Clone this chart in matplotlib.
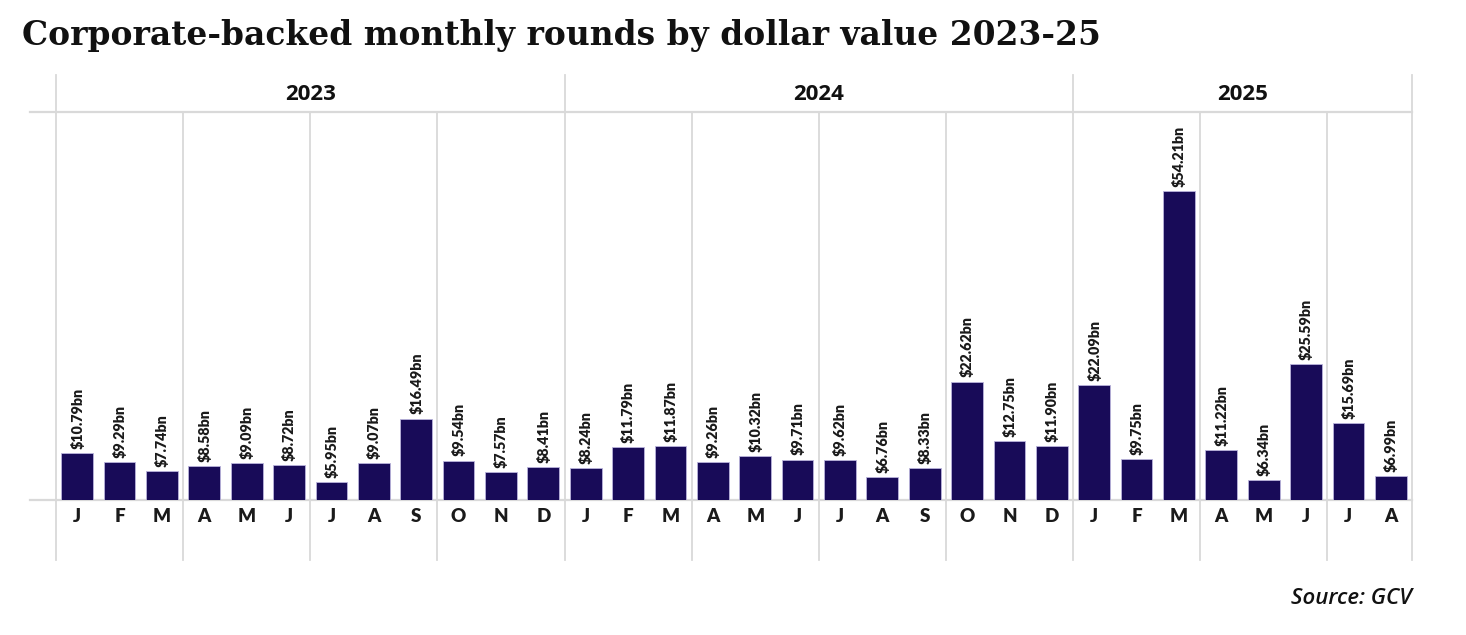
import matplotlib
matplotlib.use("Agg")
import matplotlib.pyplot as plt
import matplotlib.transforms as mtransforms

MONTHS = ["J", "F", "M", "A", "M", "J", "J", "A", "S", "O", "N", "D"]
YEARS = ["2023", "2024", "2025"]

VALUES_2023 = [10.79, 9.29, 7.74, 8.58, 9.09, 8.72, 5.95, 9.07, 16.49, 9.54, 7.57, 8.41]
VALUES_2024 = [8.24, 11.79, 11.87, 9.26, 10.32, 9.71, 9.62, 6.76, 8.33, 22.62, 12.75, 11.90]
VALUES_2025 = [22.09, 9.75, 54.21, 11.22, 6.34, 25.59, 15.69, 6.99]

BAR_COLOR = "#180b58"
GRID_COLOR = "#d9d9d9"
W, H = 1466, 635


def main() -> None:
    values = VALUES_2023 + VALUES_2024 + VALUES_2025
    labels = MONTHS + MONTHS + MONTHS[: len(VALUES_2025)]
    year_sizes = [len(VALUES_2023), len(VALUES_2024), len(VALUES_2025)]
    n = len(values)
    xs = list(range(n))

    fig = plt.figure(figsize=(W / 100, H / 100), dpi=100)
    left, right, top, bottom = 56, 1412, 112, 500
    ax = fig.add_axes([left / W, 1 - bottom / H, (right - left) / W, (bottom - top) / H])
    ax_h = bottom - top

    ax.bar(xs, values, width=0.75, color=BAR_COLOR, edgecolor="#b9b3dc",
           linewidth=0.6, zorder=3)
    ax.set_xlim(-0.5, n - 0.5)
    ax.set_ylim(3, 67.3)

    for x, v in zip(xs, values):
        ax.annotate(f"${v:.2f}bn", (x, v), xytext=(0, 3), textcoords="offset points",
                    rotation=90, ha="center", va="bottom", fontsize=10.3,
                    fontweight="heavy", family="Lato", color="#1a1a1a", zorder=4)

    ax.set_xticks(xs)
    ax.set_xticklabels(labels, fontsize=13.5, fontweight="heavy", family="Lato",
                       color="#1a1a1a")
    ax.tick_params(axis="x", length=0, pad=6)
    ax.set_yticks([])
    for s in ax.spines.values():
        s.set_visible(False)

    y_low = -(560 - bottom) / ax_h
    y_high = 1 + (top - 75) / ax_h

    # year boundaries run up through the header band
    year_edges = [-0.5]
    for size in year_sizes:
        year_edges.append(year_edges[-1] + size)
    for xe in year_edges:
        ax.axvline(xe, ymin=y_low, ymax=y_high, color=GRID_COLOR, lw=1.3,
                   clip_on=False, zorder=0)

    # quarter boundaries stay below the header
    q = -0.5
    while q < n - 0.5:
        if q not in year_edges:
            ax.axvline(q, ymin=y_low, ymax=1, color=GRID_COLOR, lw=1.3,
                       clip_on=False, zorder=0)
        q += 3

    x_start = -(left - 30) / (right - left)
    ax.axhline(ax.get_ylim()[1], xmin=x_start, xmax=1, color=GRID_COLOR, lw=1.6,
               clip_on=False, zorder=0)
    ax.axhline(ax.get_ylim()[0], xmin=x_start, xmax=1, color=GRID_COLOR, lw=1.6,
               clip_on=False, zorder=1)

    trans = mtransforms.blended_transform_factory(ax.transData, ax.transAxes)
    for i, year in enumerate(YEARS):
        cx = (year_edges[i] + year_edges[i + 1]) / 2
        ax.text(cx, 1 + (top - 94) / ax_h, year, transform=trans, ha="center",
                va="center", fontsize=16, fontweight="bold", family="Open Sans",
                color="#111111")

    fig.text(22 / W, 1 - 35 / H, "Corporate-backed monthly rounds by dollar value 2023-25",
             ha="left", va="center", fontsize=23.7, fontweight="bold",
             family="DejaVu Serif", color="#111111")
    fig.text(1412 / W, 1 - 598 / H, "Source: GCV", ha="right", va="center",
             fontsize=16, fontweight="semibold", style="italic", family="Open Sans",
             color="#111111")

    fig.savefig("out.png", dpi=100)
    plt.close(fig)


if __name__ == "__main__":
    main()
